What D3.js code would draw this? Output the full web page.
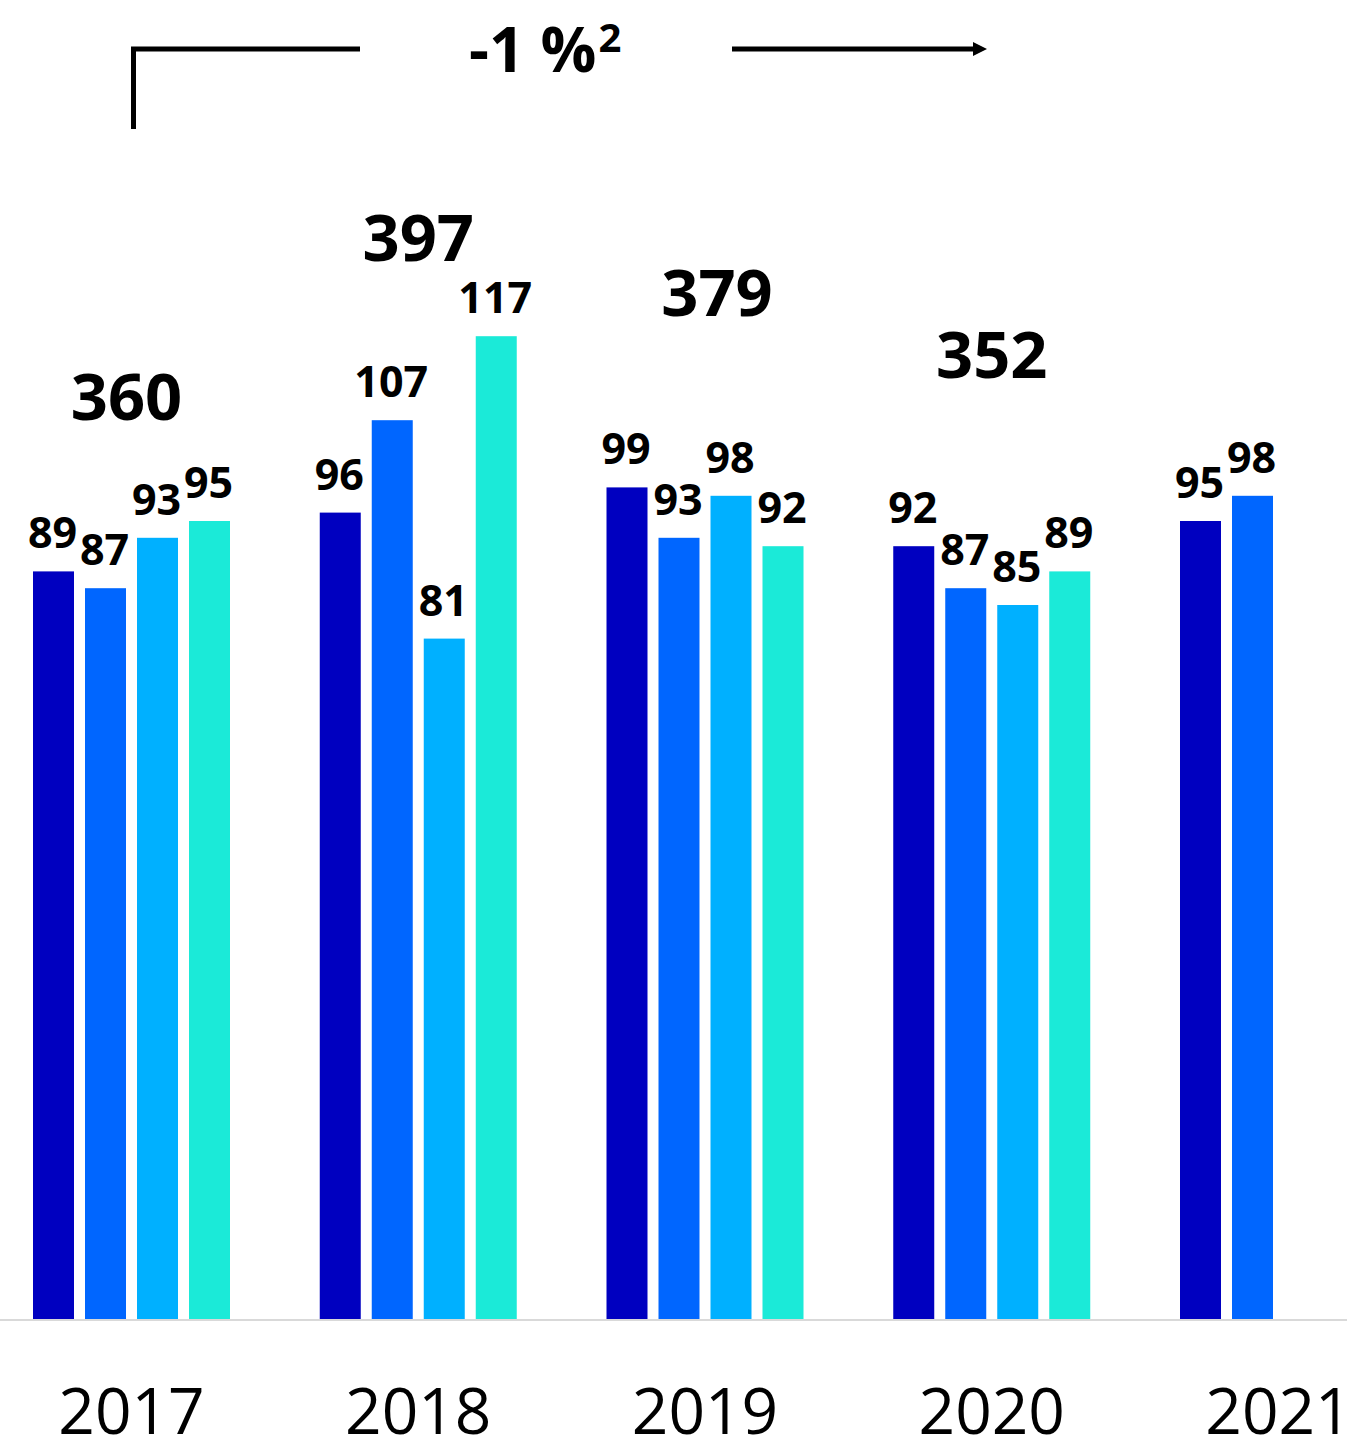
<!DOCTYPE html>
<html>
<head>
<meta charset="utf-8">
<script src="https://cdn.jsdelivr.net/npm/d3@7"></script>
<style>
  html, body { margin: 0; padding: 0; background: #ffffff; }
  svg { display: block; font-family: "Open Sans", "Noto Sans", sans-serif; }
</style>
</head>
<body>
<svg id="chart" width="1347" height="1444"></svg>
<script>
// Years shown on the category axis
const years = ["2017", "2018", "2019", "2020", "2021"];

// Quarterly values per year (null = not yet reported)
const q1 = [89, 96, 99, 92, 95];
const q2 = [87, 107, 93, 87, 98];
const q3 = [93, 81, 98, 85, null];
const q4 = [95, 117, 92, 89, null];

// Annual totals
const totals = [360, 397, 379, 352, null];

// Overall change annotation
const changeLabel = "-1 %";
const changeNote = "2";

const quarters = ["Q1", "Q2", "Q3", "Q4"];
const seriesValues = [q1, q2, q3, q4];
const colors = ["#0000C0", "#0066FF", "#00B0FF", "#1BEAD8"];

// Placement of the total labels (height in value units, horizontal nudge in px)
const totalLift = [107, 126, 119.4, 112, null];
const totalNudge = [-5, 0, 12, 0, 0];

const svg = d3.select("#chart");
const baseY = 1319;

const y = d3.scaleLinear().domain([0, 117]).range([baseY, baseY - 117 * 8.4]);

const x0 = d3.scaleBand()
  .domain(years)
  .range([33, 33 + 4 * 286.75 + 197])
  .paddingInner((286.75 - 197) / 286.75)
  .paddingOuter(0);

const x1 = d3.scaleBand()
  .domain(quarters)
  .range([0, x0.bandwidth()])
  .paddingInner(11 / 52)
  .paddingOuter(0);

const rows = years.map((yr, i) => ({
  year: yr,
  bars: quarters.map((q, j) => ({ q, color: colors[j], value: seriesValues[j][i] }))
    .filter(d => d.value != null),
  total: totals[i],
  lift: totalLift[i],
  nudge: totalNudge[i]
}));

// Baseline
svg.append("line")
  .attr("x1", 0).attr("x2", 1347)
  .attr("y1", baseY + 1).attr("y2", baseY + 1)
  .attr("stroke", "#d9d9d9").attr("stroke-width", 2);

const groups = svg.selectAll("g.year")
  .data(rows)
  .join("g")
  .attr("class", "year")
  .attr("transform", d => `translate(${x0(d.year)},0)`);

groups.selectAll("rect")
  .data(d => d.bars)
  .join("rect")
  .attr("x", d => x1(d.q))
  .attr("width", x1.bandwidth())
  .attr("y", d => y(d.value))
  .attr("height", d => baseY - y(d.value))
  .attr("fill", d => d.color);

groups.selectAll("text.value")
  .data(d => d.bars)
  .join("text")
  .attr("class", "value")
  .attr("x", d => x1(d.q) + x1.bandwidth() / 2 - 1)
  .attr("y", d => y(d.value) - 23)
  .attr("text-anchor", "middle")
  .attr("font-size", 43)
  .attr("font-weight", 700)
  .attr("fill", "#000")
  .text(d => d.value);

groups.filter(d => d.total != null)
  .append("text")
  .attr("class", "total")
  .attr("x", d => x0.bandwidth() / 2 + d.nudge)
  .attr("y", d => y(d.lift))
  .attr("text-anchor", "middle")
  .attr("font-size", 65)
  .attr("font-weight", 700)
  .attr("fill", "#000")
  .text(d => d.total);

// Year axis labels
const xAxis = d3.axisBottom(x0).tickSize(0).tickPadding(0);
const axisG = svg.append("g")
  .attr("transform", `translate(0,${baseY})`)
  .call(xAxis);
axisG.select(".domain").remove();
axisG.selectAll(".tick text")
  .attr("dy", null)
  .attr("y", 115)
  .attr("font-family", "\"Open Sans\", \"Noto Sans\", sans-serif")
  .attr("font-size", 64)
  .attr("font-weight", 400)
  .attr("fill", "#000");

// Trend bracket with arrow
const defs = svg.append("defs");
defs.append("marker")
  .attr("id", "arrowhead")
  .attr("viewBox", "0 0 14 14")
  .attr("refX", 0).attr("refY", 7)
  .attr("markerWidth", 14).attr("markerHeight", 14)
  .attr("markerUnits", "userSpaceOnUse")
  .attr("orient", "auto")
  .append("path")
  .attr("d", "M0,0 L14,7 L0,14 Z")
  .attr("fill", "#000");

const lineY = 49;
const startX = x0("2017") + x0.bandwidth() / 2 + 2;
svg.append("path")
  .attr("d", `M${startX},129 L${startX},${lineY} L360,${lineY}`)
  .attr("fill", "none")
  .attr("stroke", "#000")
  .attr("stroke-width", 5);

svg.append("line")
  .attr("x1", 732).attr("x2", 973)
  .attr("y1", lineY).attr("y2", lineY)
  .attr("stroke", "#000")
  .attr("stroke-width", 5)
  .attr("marker-end", "url(#arrowhead)");

const change = svg.append("text")
  .attr("x", 469)
  .attr("y", 72)
  .attr("font-size", 62)
  .attr("font-weight", 700)
  .attr("fill", "#000");
change.append("tspan").text(changeLabel);
change.append("tspan")
  .attr("font-size", 40)
  .attr("dy", -20)
  .attr("dx", 2)
  .text(changeNote);
</script>
</body>
</html>
